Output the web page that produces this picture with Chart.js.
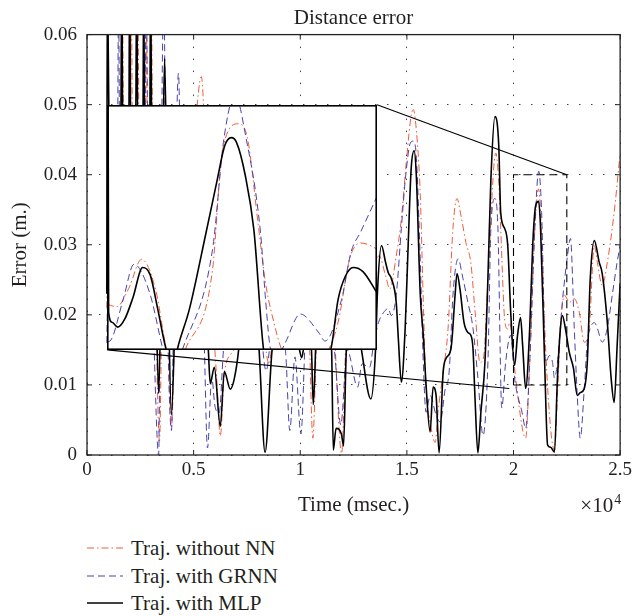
<!DOCTYPE html>
<html>
<head>
<meta charset="utf-8">
<script src="https://cdn.jsdelivr.net/npm/chart.js@4.4.1/dist/chart.umd.min.js"></script>
<style>
  html, body { margin: 0; padding: 0; background: #fff; }
  #wrap { position: relative; width: 636px; height: 616px; overflow: hidden; background: #fff; }
  #mainChart { position: absolute; left: 0; top: 0; }
  #insetChart { position: absolute; }
  #legend { position: absolute; left: 87px; top: 0; font: 21px "Liberation Serif", serif; color: #231f20; }
  .row { position: absolute; left: 0; height: 28px; white-space: nowrap; display: flex; align-items: center; }
  .row svg { margin-right: 8px; }
</style>
</head>
<body>
<div id="wrap">
  <canvas id="mainChart" width="636" height="520"></canvas>
  <canvas id="insetChart"></canvas>
  <div id="legend"></div>
</div>
<script>
// time is in units of 10^4 msec (as on the axis), error in m.
const rawTime = [
  0.093, 0.10, 0.16, 0.166, 0.172,
  0.203, 0.208, 0.213, 0.235, 0.239,
  0.244, 0.273, 0.278, 0.283, 0.298,
  0.302, 0.307, 0.32, 0.34, 0.352,
  0.364, 0.378, 0.396, 0.42, 0.50,
  0.536, 0.56, 0.59, 0.61, 0.625,
  0.645, 0.70, 0.76, 0.82, 0.854,
  0.88, 0.96, 1.04, 1.059, 1.08,
  1.15, 1.194, 1.22, 1.30, 1.37,
  1.40, 1.42, 1.45, 1.472, 1.50,
  1.52, 1.53, 1.544, 1.563, 1.577,
  1.59, 1.609, 1.633, 1.646, 1.67,
  1.693, 1.716, 1.735, 1.754, 1.777,
  1.80, 1.82, 1.843, 1.86, 1.88,
  1.917, 1.93, 1.94, 1.96, 1.973,
  1.982, 2.01, 2.057, 2.076, 2.10,
  2.118, 2.127, 2.15, 2.174, 2.192,
  2.206, 2.22, 2.239, 2.262, 2.285,
  2.309, 2.332, 2.355, 2.379, 2.393,
  2.416, 2.44, 2.472, 2.495, 2.5
];
const rawErr = [
  0.021, 0.04, 0.045, 0.066, 0.045,
  0.046, 0.066, 0.046, 0.046, 0.066,
  0.046, 0.046, 0.066, 0.046, 0.046,
  0.066, 0.046, 0.025, 0.002, 0.025,
  0.051, 0.025, 0.004, 0.03, 0.045,
  0.054, 0.04, 0.02, 0.01, 0.0027,
  0.012, 0.016, 0.035, 0.02, 0.013,
  0.02, 0.025, 0.018, 0.0024, 0.018,
  0.02, 0.0002, 0.02, 0.024, 0.0284,
  0.0256, 0.0237, 0.0284, 0.0331, 0.0427,
  0.0484, 0.0493, 0.0465, 0.037, 0.0218,
  0.0095, 0.0047, 0.0018, 0.0061, 0.0118,
  0.018, 0.0323, 0.0366, 0.0341, 0.0303,
  0.0274, 0.0204, 0.0132, 0.014, 0.025,
  0.0431, 0.0394, 0.0323, 0.0189, 0.018,
  0.0189, 0.011, 0.0024, 0.0132, 0.0323,
  0.038, 0.0346, 0.0156, 0.0038, 0.0007,
  0.0085, 0.0181, 0.0228, 0.0218, 0.0223,
  0.0203, 0.0161, 0.0181, 0.0299, 0.0275,
  0.0242, 0.0275, 0.0346, 0.0415, 0.043
];

const grnnTime = [
  0.093, 0.10, 0.13, 0.143, 0.148,
  0.153, 0.27, 0.278, 0.285, 0.31,
  0.336, 0.345, 0.36, 0.372, 0.396,
  0.41, 0.429, 0.445, 0.50, 0.545,
  0.565, 0.585, 0.60, 0.62, 0.64,
  0.70, 0.75, 0.80, 0.84, 0.87,
  0.93, 0.951, 0.975, 1.003, 1.03,
  1.10, 1.16, 1.19, 1.22, 1.269,
  1.29, 1.325, 1.345, 1.367, 1.39,
  1.413, 1.427, 1.45, 1.474, 1.493,
  1.516, 1.53, 1.544, 1.563, 1.577,
  1.59, 1.609, 1.637, 1.656, 1.68,
  1.698, 1.716, 1.74, 1.763, 1.786,
  1.81, 1.833, 1.857, 1.88, 1.894,
  1.913, 1.927, 1.945, 1.963, 1.987,
  2.005, 2.04, 2.057, 2.076, 2.10,
  2.118, 2.132, 2.15, 2.169, 2.183,
  2.192, 2.206, 2.229, 2.253, 2.267,
  2.285, 2.299, 2.313, 2.332, 2.346,
  2.36, 2.379, 2.393, 2.416, 2.44,
  2.463, 2.486, 2.5
];
const grnnErr = [
  0.016, 0.03, 0.045, 0.045, 0.066,
  0.045, 0.045, 0.066, 0.045, 0.02,
  0.0, 0.03, 0.066, 0.03, 0.0035,
  0.03, 0.0545, 0.03, 0.025, 0.02,
  0.001, 0.011, 0.007, 0.006, 0.015,
  0.03, 0.04, 0.025, 0.012, 0.018,
  0.015, 0.0035, 0.014, 0.003, 0.02,
  0.022, 0.015, 0.0043, 0.015, 0.0097,
  0.013, 0.0125, 0.016, 0.0189, 0.0203,
  0.0209, 0.0199, 0.0228, 0.0323, 0.0394,
  0.0445, 0.0448, 0.0427, 0.0275, 0.0132,
  0.0061, 0.0085, 0.0057, 0.0047, 0.0095,
  0.0118, 0.0228, 0.028, 0.0252, 0.0218,
  0.0181, 0.011, 0.0028, 0.0132, 0.0323,
  0.0366, 0.0323, 0.0067, 0.0132, 0.0171,
  0.011, 0.0061, 0.0038, 0.0132, 0.0323,
  0.0405, 0.0346, 0.0132, 0.0142, 0.0132,
  0.011, 0.0132, 0.0218, 0.0284, 0.0309,
  0.0181, 0.0085, 0.0024, 0.0095, 0.0161,
  0.0181, 0.0189, 0.0181, 0.0161, 0.0181,
  0.0228, 0.0275, 0.0299
];

const mlpTime = [
  0.093, 0.095, 0.105, 0.13, 0.158,
  0.163, 0.168, 0.196, 0.2, 0.205,
  0.228, 0.233, 0.238, 0.262, 0.266,
  0.27, 0.294, 0.2985, 0.303, 0.32,
  0.336, 0.35, 0.364, 0.378, 0.396,
  0.42, 0.48, 0.55, 0.569, 0.578,
  0.597, 0.625, 0.644, 0.672, 0.69,
  0.711, 0.75, 0.79, 0.807, 0.835,
  0.868, 0.93, 0.99, 1.007, 1.02,
  1.05, 1.061, 1.075, 1.11, 1.147,
  1.155, 1.168, 1.193, 1.203, 1.216,
  1.25, 1.287, 1.331, 1.353, 1.362,
  1.381, 1.40, 1.413, 1.427, 1.45,
  1.46, 1.474, 1.492, 1.506, 1.52,
  1.534, 1.544, 1.563, 1.577, 1.59,
  1.609, 1.623, 1.637, 1.651, 1.67,
  1.684, 1.707, 1.726, 1.735, 1.749,
  1.768, 1.786, 1.80, 1.81, 1.819,
  1.833, 1.847, 1.866, 1.88, 1.894,
  1.913, 1.931, 1.94, 1.959, 1.973,
  1.987, 2.005, 2.019, 2.033, 2.043,
  2.057, 2.076, 2.09, 2.104, 2.118,
  2.127, 2.146, 2.16, 2.174, 2.192,
  2.206, 2.22, 2.229, 2.243, 2.262,
  2.281, 2.299, 2.313, 2.332, 2.346,
  2.36, 2.379, 2.402, 2.416, 2.44,
  2.458, 2.472, 2.486, 2.5
];
const mlpErr = [
  0.023, 0.068, 0.045, 0.042, 0.045,
  0.068, 0.046, 0.046, 0.068, 0.046,
  0.046, 0.068, 0.046, 0.046, 0.068,
  0.046, 0.046, 0.068, 0.046, 0.03,
  0.0088, 0.03, 0.0566, 0.03, 0.0058,
  0.025, 0.03, 0.025, 0.015, 0.0102,
  0.0125, 0.0041, 0.0119, 0.0094, 0.0108,
  0.015, 0.03, 0.022, 0.015, 0.0004,
  0.015, 0.022, 0.016, 0.0139, 0.016,
  0.017, 0.0072, 0.017, 0.022, 0.015,
  0.0007, 0.0038, 0.003, 0.0013, 0.015,
  0.022, 0.015, 0.008, 0.015, 0.0232,
  0.0299, 0.0275, 0.026, 0.0252, 0.0218,
  0.0166, 0.0104, 0.0181, 0.0299, 0.0408,
  0.0434, 0.0401, 0.0228, 0.0171, 0.01,
  0.0033, 0.0097, 0.0085, 0.0003, 0.0118,
  0.0138, 0.0152, 0.0228, 0.0259, 0.0237,
  0.0189, 0.0175, 0.0171, 0.0152, 0.0085,
  0.0003, 0.0061, 0.0132, 0.0252, 0.0394,
  0.0483, 0.0441, 0.0346, 0.0323, 0.0299,
  0.0203, 0.0128, 0.0171, 0.0196, 0.0156,
  0.0095, 0.0181, 0.0299, 0.0356, 0.0362,
  0.0323, 0.0132, 0.0014, 0.0011, 0.0004,
  0.0109, 0.0181, 0.0199, 0.0181, 0.0146,
  0.0124, 0.0085, 0.0089, 0.0095, 0.0132,
  0.0252, 0.0306, 0.0275, 0.0259, 0.0189,
  0.0109, 0.0075, 0.0156, 0.0245
];

// zoomed window shown in the inset
const zoomTime = [2.0, 2.25];
const zoomErr = [0.01, 0.04];

const insetRawTime = [
  2.0, 2.009, 2.02, 2.032, 2.045,
  2.055, 2.06, 2.066, 2.0726, 2.0977,
  2.1066, 2.1216, 2.1296, 2.1406, 2.1468,
  2.156, 2.1605, 2.17, 2.195, 2.205,
  2.214, 2.225, 2.235, 2.248, 2.25
];
const insetRawErr = [
  0.0156, 0.0153, 0.0175, 0.0211, 0.0174,
  0.0101, 0.008, 0.008, 0.0101, 0.0198,
  0.0342, 0.0377, 0.0362, 0.0247, 0.0182,
  0.0126, 0.0105, 0.008, 0.008, 0.010,
  0.0134, 0.0213, 0.0231, 0.0225, 0.0223
];
const insetGrnnTime = [
  2.0, 2.0028, 2.015, 2.025, 2.0395,
  2.0517, 2.056, 2.064, 2.070, 2.0977,
  2.1084, 2.1186, 2.1287, 2.1422, 2.1468,
  2.1514, 2.157, 2.1651, 2.179, 2.1957,
  2.2019, 2.2172, 2.226, 2.235, 2.25
];
const insetGrnnErr = [
  0.011, 0.0111, 0.0162, 0.0205, 0.017,
  0.0101, 0.008, 0.008, 0.0101, 0.0223,
  0.036, 0.0412, 0.036, 0.0243, 0.0162,
  0.0101, 0.009, 0.0109, 0.0144, 0.0122,
  0.0111, 0.0162, 0.022, 0.0245, 0.0288
];
const insetMlpTime = [
  2.001, 2.0015, 2.0046, 2.010, 2.0165,
  2.024, 2.033, 2.040, 2.047, 2.055,
  2.0625, 2.065, 2.0763, 2.0916, 2.102,
  2.109, 2.115, 2.120, 2.128, 2.136,
  2.145, 2.150, 2.177, 2.207, 2.214,
  2.2206, 2.228, 2.237, 2.25
];
const insetMlpErr = [
  0.045, 0.0146, 0.0134, 0.0128, 0.0138,
  0.0164, 0.0201, 0.0192, 0.015, 0.010,
  0.0083, 0.010, 0.015, 0.0243, 0.0308,
  0.035, 0.036, 0.0354, 0.0314, 0.0247,
  0.010, 0.0077, 0.0065, 0.010, 0.0162,
  0.019, 0.0201, 0.0196, 0.017
];

const seriesNames = ["Traj. without NN", "Traj. with GRNN", "Traj. with MLP"];

// where the inset sits on the main axes, and the end of the lower link line
const insetSpanTime = [0.095, 1.36];
const insetSpanErr = [0.015, 0.05];
const lowerLinkEnd = [1.98, 0.0095];

const ink = "#231f20";
const serif = '"Liberation Serif", "Times New Roman", serif';
const styles = [
  { color: "#ef5b3b", dash: [7, 3, 1.5, 3], width: 1 },
  { color: "#4a42aa", dash: [7, 4], width: 1 },
  { color: "#000000", dash: [], width: 1.6 },
];

Chart.defaults.font.family = serif;
Chart.defaults.color = ink;

const pts = (xs, ys) => xs.map((x, i) => ({ x: x, y: ys[i] }));

const curve = (i, data) => ({
  label: seriesNames[i],
  data: data,
  borderColor: styles[i].color,
  borderDash: styles[i].dash,
  borderWidth: styles[i].width,
  pointRadius: 0,
  fill: false,
  tension: 0.4,
  cubicInterpolationMode: "monotone",
  order: 3 - i,
});

const guide = (data, dash) => ({
  label: "",
  data: data,
  borderColor: "#000",
  borderDash: dash,
  borderWidth: 1.1,
  pointRadius: 0,
  fill: false,
  tension: 0,
  order: 0,
});

const frame = {
  id: "frame",
  afterDraw(chart) {
    const { ctx, chartArea: a, scales } = chart;
    ctx.save();
    ctx.strokeStyle = "#222";
    ctx.lineWidth = 1;
    ctx.setLineDash([]);
    ctx.beginPath();
    scales.x.ticks.forEach((t) => {
      const px = scales.x.getPixelForValue(t.value);
      ctx.moveTo(px, a.bottom); ctx.lineTo(px, a.bottom - 5);
      ctx.moveTo(px, a.top); ctx.lineTo(px, a.top + 5);
    });
    scales.y.ticks.forEach((t) => {
      const py = scales.y.getPixelForValue(t.value);
      ctx.moveTo(a.left, py); ctx.lineTo(a.left + 5, py);
      ctx.moveTo(a.right, py); ctx.lineTo(a.right - 5, py);
    });
    ctx.stroke();
    ctx.lineWidth = 1.3;
    ctx.strokeRect(a.left, a.top, a.right - a.left, a.bottom - a.top);
    // x10^4 multiplier
    ctx.fillStyle = ink;
    ctx.textAlign = "right";
    ctx.textBaseline = "alphabetic";
    ctx.font = "21px " + serif;
    ctx.fillText("\u00d710", a.right - 7, a.bottom + 57);
    ctx.font = "14px " + serif;
    ctx.textAlign = "left";
    ctx.fillText("4", a.right - 6, a.bottom + 49);
    ctx.restore();
  },
};

const mainChart = new Chart(document.getElementById("mainChart"), {
  type: "line",
  data: {
    datasets: [
      curve(0, pts(rawTime, rawErr)),
      curve(1, pts(grnnTime, grnnErr)),
      curve(2, pts(mlpTime, mlpErr)),
      guide(pts([zoomTime[0], zoomTime[1], zoomTime[1], zoomTime[0], zoomTime[0]],
                [zoomErr[0], zoomErr[0], zoomErr[1], zoomErr[1], zoomErr[0]]), [8, 5]),
      guide(pts([insetSpanTime[1], zoomTime[1]], [insetSpanErr[1], zoomErr[1]]), []),
      guide(pts([insetSpanTime[0], lowerLinkEnd[0]], [insetSpanErr[0], lowerLinkEnd[1]]), []),
    ],
  },
  options: {
    responsive: false,
    animation: false,
    devicePixelRatio: 1,
    layout: { padding: { left: 0, right: 13, top: 0, bottom: 0 } },
    scales: {
      x: {
        type: "linear",
        min: 0,
        max: 2.5,
        afterFit: (s) => { s.height = 65; },
        ticks: {
          stepSize: 0.5,
          padding: 4,
          maxRotation: 0,
          font: { size: 19 },
          color: ink,
          callback: (v) => String(Math.round(v * 10) / 10),
        },
        grid: { color: "#444", lineWidth: 1, drawTicks: false },
        border: { display: false, dash: [1.5, 10.5] },
        title: { display: true, text: "Time (msec.)", font: { size: 21 }, color: ink, padding: { top: 0, bottom: 2.4 } },
      },
      y: {
        min: 0,
        max: 0.06,
        afterFit: (s) => { s.width = 87; },
        ticks: {
          stepSize: 0.01,
          padding: 10,
          font: { size: 19 },
          color: ink,
          callback: (v) => (Math.abs(v) < 1e-9 ? "0" : v.toFixed(2)),
        },
        grid: { color: "#444", lineWidth: 1, drawTicks: false },
        border: { display: false, dash: [1.5, 10.5] },
        title: { display: true, text: "Error (m.)", font: { size: 21 }, color: ink, padding: { top: 7.4, bottom: 0 } },
      },
    },
    plugins: {
      legend: { display: false },
      tooltip: { enabled: false },
      title: {
        display: true,
        text: "Distance error",
        fullSize: false,
        color: ink,
        font: { size: 21, weight: "normal" },
        padding: { top: 6.3, bottom: 3.1 },
      },
    },
  },
  plugins: [frame],
});

// place the inset over the main axes
const sx = mainChart.scales.x, sy = mainChart.scales.y;
const insetLeft = Math.round(sx.getPixelForValue(insetSpanTime[0]));
const insetRight = Math.round(sx.getPixelForValue(insetSpanTime[1]));
const insetTop = Math.round(sy.getPixelForValue(insetSpanErr[1]));
const insetBottom = Math.round(sy.getPixelForValue(insetSpanErr[0]));
const insetCanvas = document.getElementById("insetChart");
insetCanvas.width = insetRight - insetLeft;
insetCanvas.height = insetBottom - insetTop;
insetCanvas.style.left = insetLeft + "px";
insetCanvas.style.top = insetTop + "px";

const insetFrame = {
  id: "insetFrame",
  beforeDraw(chart) {
    const { ctx, width, height } = chart;
    ctx.save();
    ctx.fillStyle = "#fff";
    ctx.fillRect(0, 0, width, height);
    ctx.restore();
  },
  afterDraw(chart) {
    const { ctx, width, height } = chart;
    ctx.save();
    ctx.strokeStyle = "#000";
    ctx.lineWidth = 1.6;
    ctx.strokeRect(0.8, 0.8, width - 1.6, height - 1.6);
    ctx.restore();
  },
};

new Chart(insetCanvas, {
  type: "line",
  data: {
    datasets: [
      curve(0, pts(insetRawTime, insetRawErr)),
      curve(1, pts(insetGrnnTime, insetGrnnErr)),
      curve(2, pts(insetMlpTime, insetMlpErr)),
    ],
  },
  options: {
    responsive: false,
    animation: false,
    devicePixelRatio: 1,
    layout: { padding: 0 },
    scales: {
      x: { type: "linear", min: zoomTime[0], max: zoomTime[1], display: false },
      y: { min: zoomErr[0], max: zoomErr[1], display: false },
    },
    plugins: { legend: { display: false }, tooltip: { enabled: false }, title: { display: false } },
  },
  plugins: [insetFrame],
});

// legend below the axes
const legend = document.getElementById("legend");
const rowCenters = [548, 576, 603];
seriesNames.forEach((name, i) => {
  const row = document.createElement("div");
  row.className = "row";
  row.style.top = (rowCenters[i] - 14) + "px";
  const s = styles[i];
  row.innerHTML =
    '<svg width="36" height="6"><line x1="0" y1="3" x2="36" y2="3" stroke="' + s.color +
    '" stroke-width="' + (i === 2 ? 1.6 : 1.2) + '" stroke-dasharray="' + (s.dash.length ? s.dash.join(" ") : "none") +
    '"/></svg><span>' + name + "</span>";
  legend.appendChild(row);
});
</script>
</body>
</html>
